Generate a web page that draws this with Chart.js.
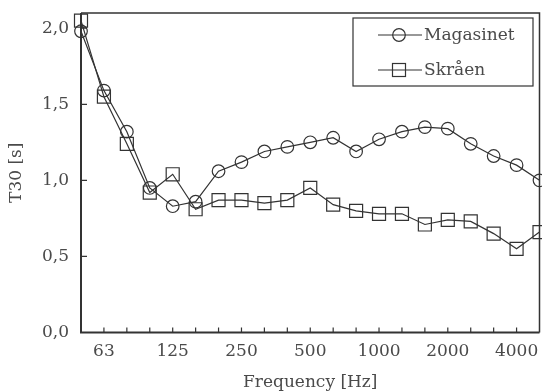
<!DOCTYPE html>
<html>
<head>
<meta charset="utf-8">
<script src="https://cdn.jsdelivr.net/npm/chart.js@4.4.1/dist/chart.umd.min.js"></script>
<style>
  html, body { margin: 0; padding: 0; background: #fff; }
  #wrap { width: 542px; height: 391px; position: relative; }
</style>
</head>
<body>
<div id="wrap"><canvas id="c" width="542" height="391"></canvas></div>
<script>
const frequencies = ['50','63','80','100','125','160','200','250','315','400','500','630','800','1000','1250','1600','2000','2500','3150','4000','5000'];
const tickLabels = ['63','125','250','500','1000','2000','4000'];
const magasinet = [1.98,1.59,1.32,0.95,0.83,0.86,1.06,1.12,1.19,1.22,1.25,1.28,1.19,1.27,1.32,1.35,1.34,1.24,1.16,1.10,1.00];
const skraaen   = [2.05,1.55,1.24,0.92,1.04,0.81,0.87,0.87,0.85,0.87,0.95,0.84,0.80,0.78,0.78,0.71,0.74,0.73,0.65,0.55,0.66];
const yTicks = [0, 0.5, 1.0, 1.5, 2.0];
const seriesNames = ['Magasinet', 'Skråen'];

const INK = '#333';
const TXT = '#4a4a4a';
const FONT = 'DejaVu Serif';

const framePlugin = {
  id: 'frame',
  afterDatasetsDraw(chart) {
    const {ctx, chartArea: a, scales: {x, y}} = chart;
    ctx.save();
    ctx.strokeStyle = INK;
    // top and right border
    ctx.lineWidth = 1.5;
    ctx.beginPath();
    ctx.moveTo(a.left, a.top); ctx.lineTo(a.right, a.top); ctx.lineTo(a.right, a.bottom);
    ctx.stroke();
    // left and bottom axes
    ctx.lineWidth = 2;
    ctx.beginPath();
    ctx.moveTo(a.left, a.top); ctx.lineTo(a.left, a.bottom); ctx.lineTo(a.right, a.bottom);
    ctx.stroke();
    // inward ticks
    ctx.lineWidth = 1.2;
    ctx.beginPath();
    for (let i = 1; i < frequencies.length - 1; i++) {
      const px = x.getPixelForValue(i);
      ctx.moveTo(px, a.bottom); ctx.lineTo(px, a.bottom - 5);
    }
    yTicks.forEach(v => {
      if (v === 0) return;
      const py = y.getPixelForValue(v);
      ctx.moveTo(a.left, py); ctx.lineTo(a.left + 6, py);
    });
    ctx.stroke();

    // legend
    const bx = 353, by = 18, bw = 180, bh = 68;
    ctx.fillStyle = '#fff';
    ctx.fillRect(bx, by, bw, bh);
    ctx.lineWidth = 1.2;
    ctx.strokeRect(bx, by, bw, bh);
    const rows = [35, 70];
    chart.data.datasets.forEach((ds, i) => {
      const ly = rows[i];
      ctx.strokeStyle = INK;
      ctx.lineWidth = 1.2;
      ctx.beginPath(); ctx.moveTo(378, ly); ctx.lineTo(422, ly); ctx.stroke();
      if (ds.pointStyle === 'circle') {
        ctx.beginPath(); ctx.arc(399, ly, 6.3, 0, Math.PI * 2); ctx.stroke();
      } else {
        ctx.strokeRect(399 - 6.5, ly - 6.5, 13, 13);
      }
      ctx.fillStyle = TXT;
      ctx.font = '17px "' + FONT + '"';
      ctx.textBaseline = 'middle';
      ctx.textAlign = 'left';
      ctx.fillText(ds.label, 424, ly + 1);
    });
    ctx.restore();
  }
};

const chart = new Chart(document.getElementById('c'), {
  type: 'line',
  data: {
    labels: frequencies,
    datasets: [
      { label: seriesNames[0], data: magasinet, borderColor: INK, borderWidth: 1.2,
        pointStyle: 'circle', pointRadius: 6.3, pointBorderColor: INK, pointBorderWidth: 1.2,
        pointBackgroundColor: 'rgba(0,0,0,0)', tension: 0, fill: false },
      { label: seriesNames[1], data: skraaen, borderColor: INK, borderWidth: 1.2,
        pointStyle: 'rect', pointRadius: 9.2, pointBorderColor: INK, pointBorderWidth: 1.2,
        pointBackgroundColor: 'rgba(0,0,0,0)', tension: 0, fill: false }
    ]
  },
  options: {
    responsive: false,
    animation: false,
    devicePixelRatio: 1,
    clip: false,
    layout: { autoPadding: false, padding: { top: 13, right: 2.5, left: 0, bottom: 0 } },
    plugins: { legend: { display: false }, tooltip: { enabled: false } },
    scales: {
      x: {
        type: 'category',
        offset: false,
        grid: { display: false, drawTicks: false },
        border: { display: false },
        ticks: {
          autoSkip: false, maxRotation: 0, padding: 9,
          color: TXT, font: { family: FONT, size: 17 },
          callback: function(v, i) { const l = frequencies[i]; return tickLabels.includes(l) ? l : ''; }
        },
        title: { display: true, text: 'Frequency [Hz]', color: TXT,
                 font: { family: FONT, size: 17, lineHeight: 1 }, padding: { top: 0, bottom: 0 } },
        afterFit(s) { s.height = 58.5; s.paddingLeft = 0; s.paddingRight = 0; }
      },
      y: {
        min: 0, max: 2.1,
        grid: { display: false, drawTicks: false },
        border: { display: false },
        afterBuildTicks(s) { s.ticks = yTicks.map(v => ({ value: v })); },
        ticks: {
          padding: 12, color: TXT, font: { family: FONT, size: 17 },
          callback: v => v.toFixed(1).replace('.', ',')
        },
        title: { display: true, text: 'T30 [s]', color: TXT,
                 font: { family: FONT, size: 17, lineHeight: 1 }, padding: { top: 8, bottom: 0 } },
        afterFit(s) { s.width = 81; s.paddingTop = 0; s.paddingBottom = 0; }
      }
    }
  },
  plugins: [framePlugin]
});
</script>
</body>
</html>
